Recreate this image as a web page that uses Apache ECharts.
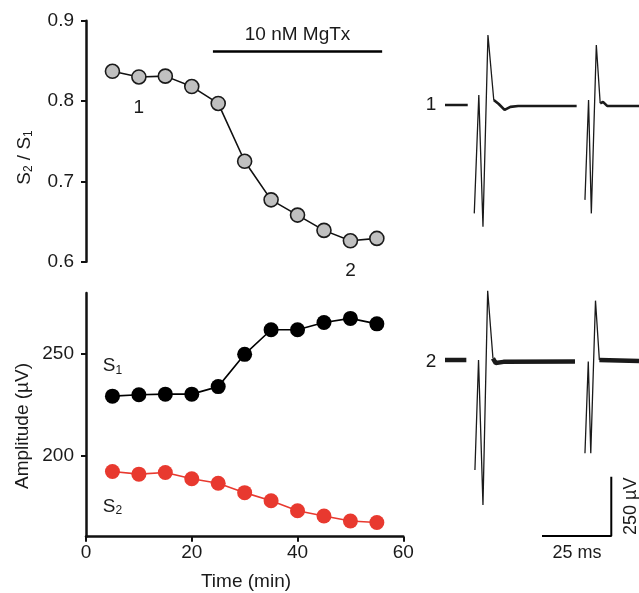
<!DOCTYPE html>
<html>
<head>
<meta charset="utf-8">
<script src="https://cdn.jsdelivr.net/npm/echarts@6/dist/echarts.min.js"></script>
<style>
html,body{margin:0;padding:0;background:#fff;}
#c{width:639px;height:593px;}
</style>
</head>
<body>
<div id="c"></div>
<script>
// ---- time course data (min) ----
const times = [5, 10, 15, 20, 25, 30, 35, 40, 45, 50, 55];
const ratioS2S1 = [0.837, 0.830, 0.831, 0.818, 0.797, 0.725, 0.677, 0.658, 0.639, 0.626, 0.629];
const ampS1 = [229.2, 229.9, 230.2, 230.2, 233.9, 249.8, 261.9, 261.9, 265.5, 267.5, 264.8];
const ampS2 = [192.1, 190.8, 191.6, 188.5, 186.3, 181.7, 177.7, 172.8, 170.2, 167.7, 167.0];
const timeTicks = [0, 20, 40, 60];
const ratioTicks = [0.6, 0.7, 0.8, 0.9];
const ampTicks = [200, 250];
const drugLabel = '10 nM MgTx';
const drugStart = 24, drugEnd = 56, drugLevel = 0.862;
const markIdx1 = 1, markIdx2 = 9;

// ---- example traces (ms, µV) ----
const trace1Baseline = [[0,0],[8.2,0],'-',[17.6,21],[19.4,4],[21.5,-21],[23.6,-8],[26.4,-4],[47.5,-4],'-',[56,7],[57,13],[58.5,-4],[70,-4]];
const trace1Spikes = [[10.56,-457],[12.2,42],[13.7,-513],[15.5,295],[17.6,21],'-',[50.5,-400],[51.8,21],[52.8,-457],[54.6,253],[56,7]];
const trace2Baseline = [[0,0],[7.7,0],'-',[17.3,7],[18.3,-13],[21.1,-8],[46.9,-7],'-',[55.7,0],[70,-4]];
const trace2Spikes = [[10.8,-464],[12.1,0],[13.7,-611],[15.4,292],[17.3,7],'-',[50.5,-393],[51.7,-7],[52.6,-393],[54.3,250],[55.7,0]];
const scaleMs = 25, scaleUv = 250;
const scaleCornerMs = 60, scaleCornerUv = -742;

const FONT = 'Liberation Sans, Arial, sans-serif';
const TXT = '#1a1a1a';

const chart = echarts.init(document.getElementById('c'), null, {renderer: 'canvas'});

function lbl(text, pos, dist) {
  return {show: true, formatter: text, position: pos, distance: dist,
    fontFamily: FONT, fontSize: 19, color: TXT,
    rich: {a: {fontFamily: FONT, fontSize: 19, color: TXT, verticalAlign: 'top', lineHeight: 20},
           s: {fontFamily: FONT, fontSize: 12, color: TXT, verticalAlign: 'bottom', lineHeight: 12}}};
}

const ratioData = times.map((t, i) => {
  const d = {value: [t, ratioS2S1[i]]};
  if (i === markIdx1) d.label = lbl('1', 'bottom', 14);
  if (i === markIdx2) d.label = lbl('2', 'bottom', 13);
  return d;
});
const s1Data = times.map((t, i) => {
  const d = {value: [t, ampS1[i]]};
  if (i === 0) d.label = lbl('{a|S}{s|1}', 'top', 12);
  return d;
});
const s2Data = times.map((t, i) => {
  const d = {value: [t, ampS2[i]]};
  if (i === 0) d.label = lbl('{a|S}{s|2}', 'bottom', 18);
  return d;
});

const axisLineStyle = {color: '#111', width: 2.5};
const tickStyle = {color: '#111', width: 2};
const axisLabelStyle = {fontFamily: FONT, fontSize: 19, color: TXT};

const pxPerMs = 2.84;
const tracesXMax = 70;

const option = {
  backgroundColor: '#fff',
  animation: false,
  grid: [
    {left: 86, top: 20.7, width: 317.3, height: 241},
    {left: 86, top: 293, width: 317.3, height: 243.7},
    {left: 445, top: 10.1, width: pxPerMs * tracesXMax, height: 237.2},
    {left: 445, top: 288.8, width: pxPerMs * tracesXMax, height: 260.9}
  ],
  xAxis: [
    {gridIndex: 0, type: 'value', min: 0, max: 60, show: false},
    {gridIndex: 1, type: 'value', min: 0, max: 60, interval: 20,
      axisLine: {lineStyle: axisLineStyle}, axisTick: {length: 5, lineStyle: tickStyle},
      axisLabel: Object.assign({margin: 7, customValues: timeTicks}, axisLabelStyle),
      splitLine: {show: false}},
    {gridIndex: 2, type: 'value', min: 0, max: tracesXMax, show: false},
    {gridIndex: 3, type: 'value', min: 0, max: tracesXMax, show: false}
  ],
  yAxis: [
    {gridIndex: 0, type: 'value', min: 0.6, max: 0.9, interval: 0.1,
      axisLine: {show: true, lineStyle: axisLineStyle}, axisTick: {show: true, length: 5, lineStyle: tickStyle},
      axisLabel: Object.assign({margin: 12, formatter: v => v.toFixed(1)}, axisLabelStyle),
      splitLine: {show: false}},
    {gridIndex: 1, type: 'value', min: 160, max: 280,
      axisLine: {show: true, lineStyle: axisLineStyle},
      axisTick: {show: true, length: 5, lineStyle: tickStyle, customValues: ampTicks},
      axisLabel: Object.assign({margin: 12, customValues: ampTicks}, axisLabelStyle),
      splitLine: {show: false}},
    {gridIndex: 2, type: 'value', min: -600, max: 400, show: false},
    {gridIndex: 3, type: 'value', min: -800, max: 300, show: false}
  ],
  series: [
    {type: 'line', xAxisIndex: 0, yAxisIndex: 0, data: ratioData,
      symbol: 'circle', symbolSize: 14, z: 3,
      lineStyle: {color: '#111', width: 1.6},
      itemStyle: {color: '#c0c0c0', borderColor: '#1a1a1a', borderWidth: 1.6},
      markLine: {silent: true, symbol: 'none', animation: false,
        lineStyle: {color: '#000', width: 2.5, type: 'solid'},
        label: {show: true, position: 'insideMiddleTop', distance: 7, formatter: drugLabel,
          fontFamily: FONT, fontSize: 19, color: TXT},
        emphasis: {disabled: true},
        data: [[{coord: [drugStart, drugLevel]}, {coord: [drugEnd, drugLevel]}]]}},
    {type: 'line', xAxisIndex: 1, yAxisIndex: 1, data: s1Data,
      symbol: 'circle', symbolSize: 15, z: 3,
      lineStyle: {color: '#000', width: 1.6},
      itemStyle: {color: '#000', borderColor: '#000', borderWidth: 0}},
    {type: 'line', xAxisIndex: 1, yAxisIndex: 1, data: s2Data,
      symbol: 'circle', symbolSize: 15, z: 3,
      lineStyle: {color: '#e8392f', width: 1.6},
      itemStyle: {color: '#e8392f', borderWidth: 0}},
    {type: 'line', xAxisIndex: 2, yAxisIndex: 2, data: trace1Baseline, symbol: 'none', clip: false,
      connectNulls: false, lineStyle: {color: '#1a1a1a', width: 2.6}},
    {type: 'line', xAxisIndex: 2, yAxisIndex: 2, data: trace1Spikes, symbol: 'none', clip: false,
      connectNulls: false, lineStyle: {color: '#1a1a1a', width: 1.3}},
    {type: 'line', xAxisIndex: 3, yAxisIndex: 3, data: trace2Baseline, symbol: 'none', clip: false,
      connectNulls: false, lineStyle: {color: '#1a1a1a', width: 4.5}},
    {type: 'line', xAxisIndex: 3, yAxisIndex: 3, data: trace2Spikes, symbol: 'none', clip: false,
      connectNulls: false, lineStyle: {color: '#1a1a1a', width: 1.3}},
    {type: 'line', xAxisIndex: 3, yAxisIndex: 3, symbol: 'none', clip: false,
      data: [[scaleCornerMs - scaleMs, scaleCornerUv], [scaleCornerMs, scaleCornerUv], [scaleCornerMs, scaleCornerUv + scaleUv]],
      lineStyle: {color: '#000', width: 2}}
  ],
  graphic: [
    {type: 'text', x: 25, y: 157.5, rotation: Math.PI / 2,
      style: {text: '{a|S}{s|2}{a| / S}{s|1}', align: 'center', verticalAlign: 'middle',
        rich: {a: {fontFamily: FONT, fontSize: 19, fill: TXT, verticalAlign: 'top', lineHeight: 20},
               s: {fontFamily: FONT, fontSize: 12, fill: TXT, verticalAlign: 'bottom', lineHeight: 12}}}},
    {type: 'text', x: 23, y: 426, rotation: Math.PI / 2,
      style: {text: 'Amplitude (µV)', font: '19px ' + FONT, fill: TXT, align: 'center', verticalAlign: 'middle'}},
    {type: 'text', x: 246, y: 582,
      style: {text: 'Time (min)', font: '19px ' + FONT, fill: TXT, align: 'center', verticalAlign: 'middle'}},
    {type: 'text', x: 431, y: 105,
      style: {text: '1', font: '19px ' + FONT, fill: TXT, align: 'center', verticalAlign: 'middle'}},
    {type: 'text', x: 431, y: 362,
      style: {text: '2', font: '19px ' + FONT, fill: TXT, align: 'center', verticalAlign: 'middle'}},
    {type: 'text', x: 577, y: 553,
      style: {text: '25 ms', font: '18px ' + FONT, fill: TXT, align: 'center', verticalAlign: 'middle'}},
    {type: 'text', x: 631, y: 535, rotation: Math.PI / 2,
      style: {text: '250 µV', font: '18px ' + FONT, fill: TXT, align: 'left', verticalAlign: 'middle'}}
  ]
};
chart.setOption(option);
</script>
</body>
</html>
